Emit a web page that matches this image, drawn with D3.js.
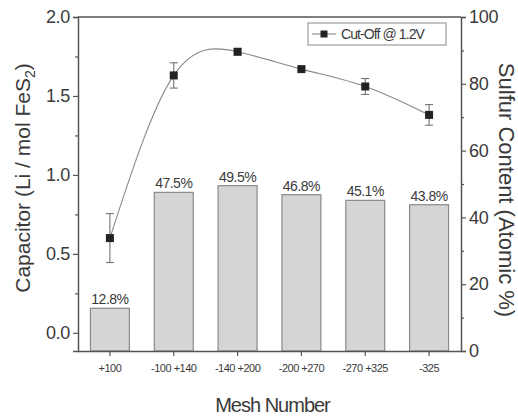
<!DOCTYPE html>
<html>
<head>
<meta charset="utf-8">
<script src="https://cdn.jsdelivr.net/npm/d3@7"></script>
<style>
  body { margin: 0; background: #fff; }
  text { font-family: "Liberation Sans", Arial, sans-serif; fill: #3a3a3a; }
</style>
</head>
<body>
<div id="chart"></div>
<script>
// mesh fractions on the x axis
const meshes = ["+100", "-100 +140", "-140 +200", "-200 +270", "-270 +325", "-325"];
// sulfur content bars (right axis, atomic %)
const sulfur = [12.8, 47.5, 49.5, 46.8, 45.1, 43.8];
// capacity at 1.2V cut-off (left axis) and its error
const capacity = [0.60, 1.63, 1.78, 1.67, 1.56, 1.38];
const capErr = [0.155, 0.08, 0.02, 0.012, 0.05, 0.065];

const leftTicks = [0.0, 0.5, 1.0, 1.5, 2.0];
const leftMinor = [0.25, 0.75, 1.25, 1.75];
const rightTicks = [0, 20, 40, 60, 80, 100];
const rightMinor = [10, 30, 50, 70, 90];

const W = 518, H = 417;
const margin = {top: 17, right: 57, bottom: 66, left: 78};
const width = W - margin.left - margin.right;
const height = H - margin.top - margin.bottom;

const svg = d3.select("#chart").append("svg")
    .attr("width", W)
    .attr("height", H);

const g = svg.append("g")
    .attr("transform", "translate(" + margin.left + "," + margin.top + ")");

const x = d3.scaleBand().domain(meshes).range([0, width]).padding(0);
const yL = d3.scaleLinear().domain([-0.115, 2.0]).range([height, 0]);
const yR = d3.scaleLinear().domain([0, 100]).range([height, 0]);

const barW = x.bandwidth() * 0.61;
const axisColor = "#555";

// bars
g.selectAll(".bar")
    .data(meshes)
    .join("rect")
    .attr("class", "bar")
    .attr("x", d => x(d) + x.bandwidth() / 2 - barW / 2)
    .attr("y", (d, i) => yR(sulfur[i]))
    .attr("width", barW)
    .attr("height", (d, i) => height - yR(sulfur[i]))
    .style("fill", "#d5d5d5")
    .style("stroke", "#8a8a8a")
    .style("stroke-width", 1.2);

// bar labels
g.selectAll(".barLabel")
    .data(meshes)
    .join("text")
    .attr("x", d => x(d) + x.bandwidth() / 2)
    .attr("y", (d, i) => yR(sulfur[i]) - 4)
    .attr("text-anchor", "middle")
    .style("font-size", "14px")
    .style("letter-spacing", "-0.5px")
    .text((d, i) => sulfur[i].toFixed(1) + "%");

// top frame line
g.append("line").attr("x1", 0).attr("x2", width).attr("y1", 0).attr("y2", 0)
    .style("stroke", axisColor).style("stroke-width", 1.5);

// left axis
const leftAxis = g.append("g")
    .call(d3.axisLeft(yL).tickValues(leftTicks).tickFormat(d3.format(".1f")).tickSize(5).tickPadding(3));
leftAxis.selectAll("text").style("font-size", "18px").style("letter-spacing", "-0.3px");
g.append("g")
    .call(d3.axisLeft(yL).tickValues(leftMinor).tickFormat("").tickSize(3))
    .select(".domain").remove();

// right axis
const rightAxis = g.append("g")
    .attr("transform", "translate(" + width + ",0)")
    .call(d3.axisRight(yR).tickValues(rightTicks).tickSize(5).tickPadding(3));
rightAxis.selectAll("text").style("font-size", "18px").style("letter-spacing", "-0.3px");
g.append("g")
    .attr("transform", "translate(" + width + ",0)")
    .call(d3.axisRight(yR).tickValues(rightMinor).tickFormat("").tickSize(3))
    .select(".domain").remove();

// bottom axis
const bottomAxis = g.append("g")
    .attr("transform", "translate(0," + height + ")")
    .call(d3.axisBottom(x).tickSize(5).tickPadding(8).tickSizeOuter(0));
bottomAxis.selectAll("text").style("font-size", "11px").style("letter-spacing", "-0.5px");

svg.selectAll(".domain").style("stroke", axisColor).style("stroke-width", 1.5);
svg.selectAll(".tick line").style("stroke", axisColor).style("stroke-width", 1.2);
svg.selectAll(".tick text").style("fill", "#3a3a3a");

// capacity curve
const pts = meshes.map((d, i) => [x(d) + x.bandwidth() / 2, yL(capacity[i])]);
g.append("path")
    .datum(pts)
    .attr("d", d3.line().curve(d3.curveNatural))
    .style("fill", "none")
    .style("stroke", "#888")
    .style("stroke-width", 1.1);

// error bars
const err = g.selectAll(".err")
    .data(meshes)
    .join("g")
    .attr("transform", d => "translate(" + (x(d) + x.bandwidth() / 2) + ",0)")
    .style("stroke", "#666")
    .style("stroke-width", 1);
err.append("line")
    .attr("y1", (d, i) => yL(capacity[i] - capErr[i]))
    .attr("y2", (d, i) => yL(capacity[i] + capErr[i]));
err.append("line")
    .attr("x1", -4).attr("x2", 4)
    .attr("y1", (d, i) => yL(capacity[i] + capErr[i]))
    .attr("y2", (d, i) => yL(capacity[i] + capErr[i]));
err.append("line")
    .attr("x1", -4).attr("x2", 4)
    .attr("y1", (d, i) => yL(capacity[i] - capErr[i]))
    .attr("y2", (d, i) => yL(capacity[i] - capErr[i]));

// markers
g.selectAll(".pt")
    .data(pts)
    .join("rect")
    .attr("x", d => d[0] - 4)
    .attr("y", d => d[1] - 4)
    .attr("width", 8)
    .attr("height", 8)
    .style("fill", "#222");

// legend
const leg = g.append("g").attr("transform", "translate(" + (308 - margin.left) + "," + (23 - margin.top) + ")");
leg.append("rect").attr("width", 138).attr("height", 22)
    .style("fill", "#fff").style("stroke", "#888").style("stroke-width", 1);
leg.append("line").attr("x1", 4).attr("x2", 28).attr("y1", 11).attr("y2", 11)
    .style("stroke", "#888").style("stroke-width", 1.1);
leg.append("rect").attr("x", 12.5).attr("y", 7.5).attr("width", 7).attr("height", 7).style("fill", "#222");
leg.append("text").attr("x", 33).attr("y", 16)
    .style("font-size", "14px").style("letter-spacing", "-0.9px")
    .text("Cut-Off @ 1.2V");

// axis titles
const yTitle = svg.append("text")
    .attr("transform", "translate(30,178) rotate(-90)")
    .attr("text-anchor", "middle")
    .style("font-size", "21px");
yTitle.append("tspan").text("Capacitor (Li / mol FeS");
yTitle.append("tspan").attr("dy", 5).style("font-size", "14px").text("2");
yTitle.append("tspan").attr("dy", -5).text(")");

svg.append("text")
    .attr("transform", "translate(499,190) rotate(90)")
    .attr("text-anchor", "middle")
    .style("font-size", "22px")
    .text("Sulfur Content (Atomic %)");

svg.append("text")
    .attr("x", margin.left + width / 2 + 3)
    .attr("y", 412)
    .attr("text-anchor", "middle")
    .style("font-size", "20px")
    .style("letter-spacing", "-1px")
    .text("Mesh Number");
</script>
</body>
</html>
